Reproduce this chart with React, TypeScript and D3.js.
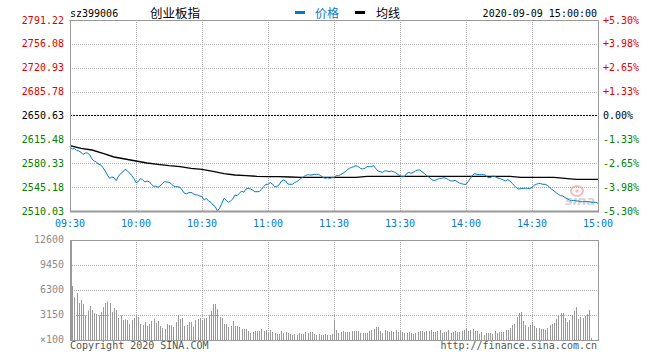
import React from "react";
import * as d3 from "d3";

const priceTicks = [2791.22, 2756.08, 2720.93, 2685.78, 2650.63, 2615.48, 2580.33, 2545.18, 2510.03];
const pctTicks = ["+5.30%", "+3.98%", "+2.65%", "+1.33%", "0.00%", "-1.33%", "-2.65%", "-3.98%", "-5.30%"];
const volTicks = [12600, 9450, 6300, 3150, 0];
const volTickLabels = ["12600", "9450", "6300", "3150", "×100"];
const timeLabels = ["09:30", "10:00", "10:30", "11:00", "11:30", "13:30", "14:00", "14:30", "15:00"];
const timeIdx = [0, 30, 60, 90, 120, 150, 180, 210, 240];
const prevClose = 2650.63;
const code = "sz399006";
const title = "创业板指";
const stamp = "2020-09-09 15:00:00";

const prices = [
  2604.75, 2601.31, 2602.29, 2599.35, 2598.37, 2596.40, 2593.46, 2595.42, 2595.42, 2592.48,
  2586.59, 2583.64, 2582.17, 2578.74, 2577.76, 2573.83, 2568.92, 2563.04, 2558.13, 2560.09,
  2559.11, 2554.69, 2561.07, 2565.00, 2567.45, 2571.38, 2569.42, 2565.98, 2562.55, 2558.13,
  2551.75, 2553.22, 2557.64, 2556.17, 2552.73, 2554.20, 2553.22, 2549.30, 2546.35, 2546.84,
  2544.88, 2546.84, 2550.28, 2553.22, 2552.73, 2552.24, 2550.28, 2546.84, 2545.86, 2545.86,
  2544.88, 2540.95, 2536.05, 2535.56, 2537.03, 2537.52, 2535.56, 2534.08, 2533.59, 2532.12,
  2531.14, 2526.23, 2528.69, 2524.76, 2522.80, 2518.87, 2516.42, 2510.30, 2513.97, 2521.33,
  2528.69, 2525.74, 2522.80, 2524.76, 2527.71, 2533.59, 2532.61, 2536.05, 2539.48, 2537.52,
  2542.43, 2543.41, 2542.43, 2540.95, 2538.50, 2538.50, 2538.50, 2541.94, 2545.86, 2549.30,
  2549.30, 2551.75, 2549.79, 2545.86, 2545.86, 2548.31, 2553.71, 2555.68, 2554.20, 2549.79,
  2549.30, 2549.30, 2551.75, 2553.22, 2555.18, 2558.13, 2560.09, 2562.05, 2563.53, 2563.04,
  2563.04, 2564.02, 2564.02, 2564.02, 2562.05, 2559.60, 2558.13, 2559.11, 2558.13, 2559.11,
  2559.11, 2562.05, 2562.05, 2563.53, 2565.49, 2567.45, 2570.89, 2572.85, 2574.32, 2575.30,
  2576.78, 2575.30, 2572.85, 2571.87, 2572.85, 2575.30, 2575.30, 2575.30, 2576.78, 2572.36,
  2568.92, 2567.94, 2566.96, 2568.92, 2568.92, 2567.94, 2568.92, 2567.94, 2566.47, 2564.02,
  2562.05, 2560.58, 2560.58, 2565.00, 2566.96, 2565.49, 2566.96, 2568.92, 2570.40, 2570.40,
  2567.94, 2565.49, 2562.55, 2560.09, 2557.64, 2555.18, 2555.18, 2556.66, 2558.13, 2558.13,
  2559.11, 2558.13, 2556.17, 2554.20, 2554.20, 2555.18, 2553.22, 2551.26, 2550.28, 2549.30,
  2549.30, 2553.22, 2558.13, 2563.04, 2565.00, 2564.02, 2563.53, 2564.02, 2563.53, 2562.55,
  2559.11, 2559.11, 2561.07, 2561.07, 2559.11, 2558.13, 2557.15, 2555.68, 2554.20, 2556.17,
  2554.20, 2550.77, 2547.33, 2543.90, 2542.43, 2542.92, 2543.41, 2543.41, 2543.41, 2542.92,
  2544.88, 2547.82, 2549.30, 2550.77, 2550.28, 2549.30, 2549.30, 2547.82, 2544.88, 2541.94,
  2539.48, 2537.03, 2534.58, 2532.61, 2532.12, 2529.67, 2528.20, 2526.23, 2525.25, 2525.74,
  2524.76, 2524.76, 2523.78, 2523.78, 2523.78, 2523.78, 2523.78, 2522.80, 2522.80, 2522.80,
  2521.33,
];

const avgIdx = [
  0, 5, 10, 15, 20, 25, 30, 35, 40, 45, 50, 55, 60, 65, 70, 75, 80, 85, 90, 95,
  100, 105, 110, 115, 120, 125, 130, 135, 140, 145, 150, 155, 160, 165, 170, 175, 180, 185, 190, 195,
  200, 205, 210, 215, 220, 225, 230, 235, 240,
];
const avgPrices = [
  2606.22, 2602.29, 2599.84, 2594.93, 2589.53, 2586.59, 2583.64, 2580.70, 2578.74, 2576.77,
  2575.30, 2572.85, 2571.37, 2568.43, 2564.99, 2563.03, 2562.05, 2561.07, 2560.58, 2560.58,
  2560.09, 2559.59, 2559.59, 2559.59, 2559.59, 2559.59, 2559.59, 2561.07, 2561.07, 2561.07,
  2561.07, 2561.07, 2561.07, 2561.07, 2561.07, 2561.07, 2561.07, 2561.07, 2561.07, 2561.07,
  2561.07, 2559.59, 2559.59, 2559.59, 2559.59, 2558.12, 2556.65, 2556.65, 2556.65,
];

const volumes = [
  7686, 6804, 5376, 5922, 4662, 5040, 4536, 3108, 3696, 4284,
  3780, 3402, 3276, 3108, 3528, 4158, 4662, 4830, 4662, 3528,
  4032, 3780, 2772, 3108, 2520, 2604, 2520, 2016, 2520, 2772,
  3108, 2898, 2016, 1890, 2268, 1764, 2016, 2394, 2688, 2142,
  2394, 1764, 1512, 1386, 2016, 1890, 1848, 1638, 2268, 3108,
  2646, 2772, 1764, 1890, 2268, 2268, 1638, 2520, 2646, 2772,
  2520, 2730, 2772, 3108, 3654, 4536, 4536, 3906, 2898, 2772,
  2016, 2016, 1638, 1764, 2394, 1764, 1764, 1638, 1386, 1386,
  1386, 1134, 882, 1008, 1134, 1134, 1134, 1386, 1134, 1260,
  1008, 1260, 1008, 882, 756, 756, 1134, 882, 1008, 882,
  756, 630, 756, 630, 882, 756, 756, 1008, 882, 1008,
  1008, 756, 630, 756, 630, 630, 756, 630, 630, 756,
  2562, 1260, 882, 1008, 1134, 1008, 1008, 1008, 1134, 1134,
  1134, 1134, 882, 882, 882, 882, 1134, 1260, 1386, 1638,
  1638, 1134, 882, 1260, 1134, 1008, 1134, 1008, 1260, 1008,
  1134, 1008, 882, 882, 1008, 882, 756, 882, 1008, 1134,
  1134, 1008, 1134, 1134, 1260, 1008, 1008, 1134, 1260, 882,
  1008, 1008, 1260, 882, 1008, 1134, 1008, 1008, 1134, 1260,
  1512, 1134, 1260, 1386, 1134, 1134, 756, 1008, 630, 882,
  882, 882, 756, 1134, 882, 1008, 1008, 1008, 1260, 1260,
  1512, 1890, 2016, 2898, 3402, 3528, 2394, 1890, 1638, 1890,
  2268, 1764, 1512, 1512, 1386, 1386, 1260, 1512, 1890, 2016,
  2142, 2646, 3150, 3402, 3402, 2772, 2268, 2520, 3150, 3654,
  4158, 2646, 2898, 2772, 3024, 3276, 3780, 252, 0, 0,
  0,
];

const L = 70, R = 598, PT = 20, PB = 211, VT = 240, VB = 340;
const mono = "'DejaVu Sans Mono', monospace";
const cjk = "'Noto Sans CJK SC', sans-serif";
const blue = "#0a78c8";
const red = "#e00000";
const green = "#008000";
const gridC = "#aaaaaa";
const axisC = "#999999";

export default function App() {
  const x = d3.scaleLinear().domain([0, 240]).range([L, R]);
  const y = d3.scaleLinear().domain([priceTicks[8], priceTicks[0]]).range([PB, PT]);
  const yv = d3.scaleLinear().domain([0, 12600]).range([VB, VT]);

  const priceLine = d3.line<number>().x((_, i) => x(i)).y((d) => y(d))(prices) || "";
  const avgLine = d3.line<number>().x((_, i) => x(avgIdx[i])).y((d) => y(d))(avgPrices) || "";

  const labelColor = (p: number) => (p > prevClose + 0.001 ? red : p < prevClose - 0.001 ? green : "#000");
  const crisp = (v: number) => Math.round(v) + 0.5;

  return (
    <svg width={660} height={360} style={{ position: "absolute", left: 0, top: 0, background: "#fff" }}>
      <rect x={0} y={0} width={660} height={360} fill="#fff" />
      {/* header */}
      <text x={70} y={16.5} fontFamily={mono} fontSize={10} fill="#000">{code}</text>
      <text x={150} y={18} fontFamily={cjk} fontSize={12.5} fill="#000">{title}</text>
      <rect x={295} y={11} width={10} height={3} fill={blue} />
      <text x={315} y={17.5} fontFamily={cjk} fontSize={12} fill={blue}>价格</text>
      <rect x={355} y={11} width={10} height={3} fill="#000" />
      <text x={376} y={17.5} fontFamily={cjk} fontSize={12} fill="#000">均线</text>
      <text x={597} y={16.5} textAnchor="end" fontFamily={mono} fontSize={10} fill="#000">{stamp}</text>

      {/* price panel grid */}
      {priceTicks.slice(1, 8).map((p, i) => (
        <line key={"hg" + i} x1={L} x2={R} y1={crisp(y(p))} y2={crisp(y(p))}
          stroke={i === 3 ? "#000" : gridC} strokeDasharray={i === 3 ? "2,1" : "1,1"} strokeWidth={1} />
      ))}
      {timeIdx.slice(1, 8).map((t, i) => (
        <line key={"vg" + i} x1={crisp(x(t))} x2={crisp(x(t))} y1={PT} y2={PB}
          stroke={gridC} strokeDasharray="1,1" />
      ))}
      {/* volume panel grid */}
      {volTicks.slice(1, 4).map((v, i) => (
        <line key={"vhg" + i} x1={L} x2={R} y1={crisp(yv(v))} y2={crisp(yv(v))}
          stroke={gridC} strokeDasharray="1,1" />
      ))}
      {timeIdx.slice(1, 8).map((t, i) => (
        <line key={"vvg" + i} x1={crisp(x(t))} x2={crisp(x(t))} y1={VT} y2={VB}
          stroke={gridC} strokeDasharray="1,1" />
      ))}

      {/* volume bars */}
      {volumes.map((v, i) => (
        v > 0 ? (
          <line key={"vb" + i} x1={crisp(x(i))} x2={crisp(x(i))} y1={VB} y2={yv(v)}
            stroke="#999" strokeWidth={1} />
        ) : null
      ))}

      {/* watermark */}
      <g opacity={0.75}>
        <ellipse cx={577} cy={191} rx={6} ry={5} fill="none" stroke="#f2a6a6" strokeWidth={2} />
        <circle cx={577} cy={191} r={1.8} fill="#f2a6a6" />
        <text x={565} y={205} fontFamily="'DejaVu Sans', sans-serif" fontStyle="italic" fontWeight="bold"
          fontSize={13} fill="#c8c8c8">sina</text>
      </g>

      {/* lines */}
      <path d={avgLine} fill="none" stroke="#000" strokeWidth={1.4} />
      <path d={priceLine} fill="none" stroke={blue} strokeWidth={1} />

      {/* borders */}
      <line x1={L - 0.5} x2={R + 0.5} y1={PT + 0.5} y2={PT + 0.5} stroke={axisC} />
      <line x1={L + 0.5} x2={L + 0.5} y1={PT} y2={PB + 1} stroke={axisC} />
      <line x1={R + 0.5} x2={R + 0.5} y1={PT} y2={PB + 1} stroke={axisC} />
      <line x1={L} x2={R + 1} y1={PB + 0.5} y2={PB + 0.5} stroke={axisC} strokeWidth={2} />
      <line x1={L} x2={R + 1} y1={VT + 0.5} y2={VT + 0.5} stroke={axisC} />
      <line x1={L + 1} x2={L + 1} y1={VT} y2={VB + 1} stroke={axisC} strokeWidth={2} />
      <line x1={R + 0.5} x2={R + 0.5} y1={VT} y2={VB + 1} stroke={axisC} />
      <line x1={L} x2={R + 1} y1={VB + 0.5} y2={VB + 0.5} stroke={axisC} />

      {/* left price labels */}
      {priceTicks.map((p, i) => (
        <text key={"pl" + i} x={64} y={y(p) + 3.5} textAnchor="end" fontFamily={mono} fontSize={10}
          fill={labelColor(p)}>{p.toFixed(2)}</text>
      ))}
      {/* right pct labels */}
      {pctTicks.map((s, i) => (
        <text key={"pr" + i} x={603} y={y(priceTicks[i]) + 3.5} fontFamily={mono} fontSize={10}
          fill={labelColor(priceTicks[i])}>{s}</text>
      ))}
      {/* time labels */}
      {timeLabels.map((s, i) => (
        <text key={"tl" + i} x={x(timeIdx[i])} y={227} textAnchor="middle" fontFamily={mono} fontSize={10}
          fill={blue}>{s}</text>
      ))}
      {/* volume labels */}
      {volTicks.map((v, i) => (
        <text key={"vl" + i} x={64} y={yv(v) + 3} textAnchor="end" fontFamily={mono} fontSize={10}
          fill="#8c8c8c">{volTickLabels[i]}</text>
      ))}
      <text x={70} y={349} fontFamily={mono} fontSize={10} fill="#555">Copyright 2020 SINA.COM</text>
      <text x={597} y={349} textAnchor="end" fontFamily={mono} fontSize={10} fill="#555">http://finance.sina.com.cn</text>
    </svg>
  );
}
